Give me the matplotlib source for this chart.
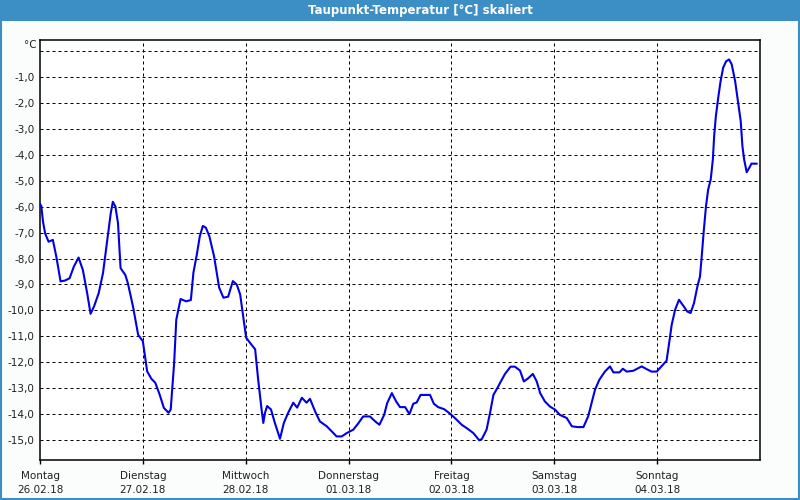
import matplotlib.pyplot as plt
from matplotlib.patches import Rectangle

# Stunden seit Montag 00:00 und Taupunkt in °C
stunden = [0.0, 0.3, 0.7, 1.2, 2.0, 3.0, 3.8, 4.8, 5.8, 6.9, 7.9, 9.0, 10.0, 11.0, 11.8,
           12.6, 13.7, 14.7, 15.7, 16.5, 17.0, 17.6, 18.2, 18.8, 19.9, 20.5, 21.7, 22.9,
           24.0, 25.0, 26.0, 26.9, 27.9, 28.9, 30.0, 30.5, 31.3, 31.8, 32.8, 34.1,
           35.2, 35.8, 36.6, 37.3, 38.0, 38.7, 39.5, 40.6, 41.8, 42.8, 43.9, 45.0, 45.9,
           46.7, 47.4, 48.1, 49.0, 50.2, 50.9, 51.7, 52.1, 52.5, 53.0, 53.9, 54.8, 56.0,
           56.9, 57.9, 59.1, 60.0, 61.1, 62.2, 63.0,
           64.2, 65.3, 66.9, 68.1, 69.2, 70.4, 71.6, 73.1, 74.3, 75.4, 77.0, 78.2, 79.2,
           80.3, 81.0, 82.1, 83.1, 84.0, 85.2, 86.2, 87.1, 87.9, 88.8, 91.0, 91.9, 92.9,
           94.3, 95.5, 96.8, 98.4, 99.9, 101.1, 102.5, 103.1, 104.2, 105.0, 105.8, 106.9,
           107.3, 108.5, 109.8, 110.8, 112.0, 112.9, 113.9, 115.0, 115.9, 116.7, 117.8,
           119.0, 120.2, 121.3, 122.9, 124.1, 125.4, 126.8, 127.9, 128.7, 129.5, 130.5,
           131.8, 133.0, 133.8, 135.2, 136.0, 136.9, 138.4, 139.6, 140.4, 141.6, 142.7,
           143.9, 145.1, 146.2, 146.8, 147.4, 148.2, 149.1, 150.1, 151.0, 151.8,
           152.6, 153.4, 154.0, 154.4, 154.9, 155.4, 155.9, 156.5, 157.0, 157.3, 157.7,
           158.3, 158.8, 159.4, 160.1, 160.8, 161.4, 162.2, 162.9, 163.5, 163.9, 164.3,
           164.9, 165.5, 166.0, 167.2]
taupunkt = [-5.9, -5.97, -6.58, -7.03, -7.35, -7.28, -7.92, -8.88, -8.85, -8.76, -8.31,
            -7.96, -8.44, -9.33, -10.13, -9.85, -9.33, -8.56, -7.28, -6.26, -5.81, -6.0,
            -6.64, -8.37, -8.63, -8.95, -9.85, -10.94, -11.19, -12.35, -12.64, -12.79,
            -13.24, -13.76, -13.95, -13.82, -12.03, -10.36, -9.56, -9.65,
            -9.60, -8.54, -7.84, -7.13, -6.74, -6.81, -7.13, -7.90, -9.12, -9.51, -9.47,
            -8.87, -9.0, -9.38, -10.22, -11.05, -11.25, -11.50, -12.66, -13.82, -14.34,
            -13.95, -13.69, -13.82, -14.34, -14.95, -14.34, -13.95, -13.56, -13.75,
            -13.37, -13.56, -13.41,
            -13.90, -14.28, -14.47, -14.67, -14.86, -14.86, -14.73, -14.60, -14.35,
            -14.09, -14.09, -14.28, -14.41, -14.03, -13.58, -13.19, -13.51, -13.73,
            -13.73, -14.0, -13.60, -13.55, -13.26, -13.26, -13.60, -13.73, -13.81,
            -13.96, -14.15, -14.41, -14.58, -14.73, -15.01, -14.96, -14.60, -13.96,
            -13.26, -12.94,
            -12.81, -12.45, -12.17, -12.17, -12.32, -12.74, -12.62, -12.45, -12.74,
            -13.19, -13.51, -13.71, -13.83, -14.03, -14.15, -14.47, -14.50, -14.50,
            -14.09, -13.58, -13.06, -12.68,
            -12.36, -12.16, -12.39, -12.39, -12.25, -12.36, -12.33, -12.23, -12.16,
            -12.27, -12.36, -12.36, -12.14, -11.94, -11.26, -10.55, -9.97, -9.59, -9.82,
            -10.04, -10.10,
            -9.72, -9.07, -8.69, -7.92, -6.89, -5.98, -5.34, -4.95, -4.18, -3.28, -2.51,
            -1.74, -1.16, -0.64, -0.39, -0.32, -0.51, -1.16, -1.99, -2.70, -3.67, -4.18,
            -4.67, -4.50, -4.34, -4.34]

tage = ["Montag", "Dienstag", "Mittwoch", "Donnerstag", "Freitag", "Samstag", "Sonntag"]
daten = ["26.02.18", "27.02.18", "28.02.18", "01.03.18", "02.03.18", "03.03.18", "04.03.18"]
y_ticks = list(range(0, -16, -1))

blau = "#3c8fc4"

fig = plt.figure(figsize=(8, 5), dpi=100, facecolor="#fbfdfd")
ax = fig.add_axes([0.05, 0.08, 0.90, 0.84])
ax.set_facecolor("white")

# Titelleiste und Rahmen
fig.patches.append(Rectangle((0, 1 - 21 / 500), 1, 21 / 500, transform=fig.transFigure,
                             facecolor=blau, edgecolor="none", zorder=0))
fig.patches.append(Rectangle((0.001, 0.002), 0.998, 0.996, transform=fig.transFigure,
                             facecolor="none", edgecolor=blau, lw=1.5, zorder=1))
fig.text(420 / 800, 1 - 10.5 / 500, "Taupunkt-Temperatur [°C] skaliert", color="white",
         fontsize=8.5, fontweight="bold", ha="center", va="center")

ax.plot(stunden, taupunkt, "-", color="#0000e6", lw=1.5, zorder=3)

ax.set_xlim(0, 168)
ax.set_ylim(-15.77, 0.43)
ax.set_xticks([24 * i for i in range(7)])
ax.set_xticklabels([t + "\n" + d for t, d in zip(tage, daten)], fontsize=7.5,
                   color="#202020", linespacing=1.5)
ax.set_yticks(y_ticks)
ax.set_yticklabels([""] + ["%d,0" % v for v in y_ticks[1:]], fontsize=7.5, color="#202020")
ax.tick_params(axis="x", length=3, width=1, pad=5)
ax.tick_params(axis="y", length=0, pad=4)
ax.text(-0.005, 0.25, "°C", transform=ax.get_yaxis_transform(), ha="right", va="center",
        fontsize=7.5, color="#202020")

for v in y_ticks:
    ax.axhline(v, color="black", lw=0.72, ls=(0, (3, 3)), zorder=1)
for i in range(1, 7):
    ax.axvline(24 * i, color="black", lw=0.72, ls=(0, (3, 3)), zorder=1)
for s in ax.spines.values():
    s.set_linewidth(1.1)

plt.savefig("out.png", dpi=100, facecolor=fig.get_facecolor())
